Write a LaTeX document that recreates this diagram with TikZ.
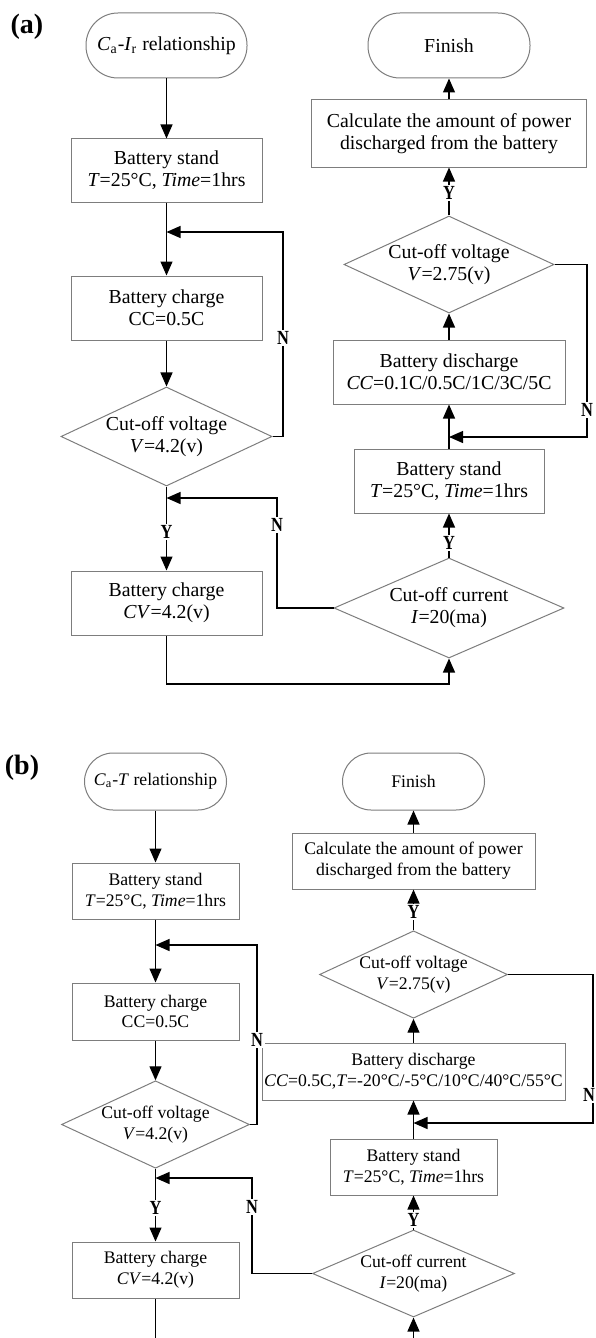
\documentclass[tikz,border=0pt]{standalone}
\usepackage{fontspec}
\setmainfont{Liberation Serif}
\usetikzlibrary{shapes.geometric,arrows.meta}
\definecolor{boxgray}{RGB}{125,125,125}
\newcommand{\degc}{°C}
\newcommand{\ynlab}[1]{\scalebox{0.82}[1]{#1}}

\begin{document}
\begin{tikzpicture}[
        x=0.5pt, y=-0.5pt,
        box/.style={rectangle, draw=boxgray, line width=0.5pt, align=center, inner sep=0pt},
        term/.style={box},
        dia/.style={diamond, aspect=2.15, draw=boxgray, line width=0.5pt, align=center, inner sep=0pt},
        arrow/.style={-{Triangle[length=7pt,width=6pt]}, line width=0.6pt},
        yn/.style={fill=white, inner sep=0.8pt, font=\bfseries\fontsize{10}{10}\selectfont},
        fonta/.style={font=\fontsize{9.9}{11}\selectfont},
        fontb/.style={font=\fontsize{8.85}{10.4}\selectfont},
        panel/.style={font=\bfseries\fontsize{14}{14}\selectfont, inner sep=0pt}
    ]
\useasboundingbox (0,0) rectangle (595,1338);

% (a) left column
        \node[panel] (la) at (27,27) {(a)};
        \node[term, fonta, rounded corners=16pt, minimum width=80.5pt, minimum height=32.5pt] (start1) at (166.5,45.5) {\textit{C}\textsubscript{a}-\textit{I}\textsubscript{r} relationship};
        \node[box, fonta, minimum width=95.5pt, minimum height=31.5pt] (st1) at (166.5,170.5) {Battery stand\\\textit{T}=25\degc, \textit{Time}=1hrs};
        \node[box, fonta, minimum width=95.5pt, minimum height=32pt] (ch1) at (166.5,308) {Battery charge\\CC=0.5C};
        \node[dia, fonta, minimum width=105.5pt, minimum height=49.5pt] (dv1) at (166.5,436.5) {Cut-off voltage\\\textit{V}=4.2(v)};
        \node[box, fonta, minimum width=95.5pt, minimum height=32pt] (cv1) at (166.5,603) {Battery charge\\\textit{CV}=4.2(v)};

% (a) right column
        \node[term, fonta, rounded corners=16pt, minimum width=81pt, minimum height=32.5pt] (fin1) at (449,45.5) {Finish};
        \node[box, fonta, minimum width=137.5pt, minimum height=33.5pt] (calc1) at (449,133.5) {Calculate the amount of power\\discharged from the battery};
        \node[dia, fonta, minimum width=105pt, minimum height=48.5pt] (dv2) at (449,264.5) {Cut-off voltage\\\textit{V}=2.75(v)};
        \node[box, fonta, minimum width=116pt, minimum height=32pt] (dis1) at (449,372) {Battery discharge\\\textit{CC}=0.1C/0.5C/1C/3C/5C};
        \node[box, fonta, minimum width=95pt, minimum height=32pt] (st2) at (449,481) {Battery stand\\\textit{T}=25\degc, \textit{Time}=1hrs};
        \node[dia, aspect=2.3, fonta, minimum width=115pt, minimum height=50pt] (dc1) at (449,608) {Cut-off current\\\textit{I}=20(ma)};

        \coordinate (j1) at (166.5,232);
        \coordinate (lp1) at (283,232);
        \coordinate (j2) at (166.5,498);
        \coordinate (lp2) at (277,498);
        \coordinate (j3) at (449,437);
        \coordinate (lp3) at (587,437);

        \draw[arrow] (start1) -- (st1);
        \draw[arrow] (st1) -- (ch1);
        \draw[arrow] (ch1) -- (dv1);
        \draw[arrow] (dv1) -- (cv1);
        \draw[arrow] (dv1.east) -| (lp1) -- (j1);
        \draw[arrow] (cv1) -- ++(0,81) -| (dc1);
        \draw[arrow] (dc1.west) -| (lp2) -- (j2);
        \draw[arrow] (dc1) -- (st2);
        \draw[arrow] (st2) -- (dis1);
        \draw[arrow] (dis1) -- (dv2);
        \draw[arrow] (dv2) -- (calc1);
        \draw[arrow] (calc1) -- (fin1);
        \draw[arrow] (dv2.east) -| (lp3) -- (j3);

        \node[yn] (n1) at (283,338) {\ynlab{N}};
        \node[yn] (n2) at (277,525) {\ynlab{N}};
        \node[yn] (n3) at (587,410) {\ynlab{N}};
        \node[yn] (y1) at (166.5,532) {\ynlab{Y}};
        \node[yn] (y2) at (449,193) {\ynlab{Y}};
        \node[yn] (y3) at (449,543) {\ynlab{Y}};

% (b) left column
        \node[panel] (lb) at (22,768) {(b)};
        \node[term, fontb, rounded corners=14.25pt, minimum width=71pt, minimum height=28.5pt] (start2) at (155.5,781.5) {\textit{C}\textsubscript{a}-\textit{T} relationship};
        \node[box, fontb, minimum width=83.5pt, minimum height=28pt] (st3) at (155.5,891) {Battery stand\\\textit{T}=25\degc, \textit{Time}=1hrs};
        \node[box, fontb, minimum width=83.5pt, minimum height=28.5pt] (ch2) at (155.5,1011.5) {Battery charge\\CC=0.5C};
        \node[dia, fontb, minimum width=92.5pt, minimum height=43.5pt] (dv3) at (155.5,1124.5) {Cut-off voltage\\\textit{V}=4.2(v)};
        \node[box, fontb, minimum width=83.5pt, minimum height=28pt] (cv2) at (155.5,1270) {Battery charge\\\textit{CV}=4.2(v)};

% (b) right column
        \node[term, fontb, rounded corners=14.25pt, minimum width=71pt, minimum height=28.5pt] (fin2) at (413.5,781.5) {Finish};
        \node[box, fontb, minimum width=121.5pt, minimum height=28pt] (calc2) at (413.5,861) {Calculate the amount of power\\discharged from the battery};
        \node[dia, fontb, minimum width=92pt, minimum height=42.5pt] (dv4) at (413.5,974.5) {Cut-off voltage\\\textit{V}=2.75(v)};
        \node[box, fontb, minimum width=151.5pt, minimum height=28.5pt] (dis2) at (413.5,1071.5) {Battery discharge\\\textit{CC}=0.5C,\textit{T}=-20\degc/-5\degc/10\degc/40\degc/55\degc};
        \node[box, fontb, minimum width=83.5pt, minimum height=28pt] (st4) at (413.5,1167) {Battery stand\\\textit{T}=25\degc, \textit{Time}=1hrs};
        \node[dia, aspect=2.3, fontb, minimum width=101pt, minimum height=43.5pt] (dc2) at (413.5,1273.5) {Cut-off current\\\textit{I}=20(ma)};

        \coordinate (j4) at (155.5,945);
        \coordinate (lp4) at (257,945);
        \coordinate (j5) at (155.5,1178);
        \coordinate (lp5) at (252,1178);
        \coordinate (j6) at (413.5,1123);
        \coordinate (lp6) at (593,1123);

        \draw[arrow] (start2) -- (st3);
        \draw[arrow] (st3) -- (ch2);
        \draw[arrow] (ch2) -- (dv3);
        \draw[arrow] (dv3) -- (cv2);
        \draw[arrow] (dv3.east) -| (lp4) -- (j4);
        \draw[arrow] (cv2) -- ++(0,95) -| (dc2);
        \draw[arrow] (dc2.west) -| (lp5) -- (j5);
        \draw[arrow] (dc2) -- (st4);
        \draw[arrow] (st4) -- (dis2);
        \draw[arrow] (dis2) -- (dv4);
        \draw[arrow] (dv4) -- (calc2);
        \draw[arrow] (calc2) -- (fin2);
        \draw[arrow] (dv4.east) -| (lp6) -- (j6);

        \node[yn] (n4) at (257,1040) {\ynlab{N}};
        \node[yn] (n5) at (252,1207) {\ynlab{N}};
        \node[yn] (n6) at (589,1095) {\ynlab{N}};
        \node[yn] (y4) at (155.5,1208) {\ynlab{Y}};
        \node[yn] (y5) at (413.5,912) {\ynlab{Y}};
        \node[yn] (y6) at (413.5,1220) {\ynlab{Y}};

    \end{tikzpicture}
\end{document}
